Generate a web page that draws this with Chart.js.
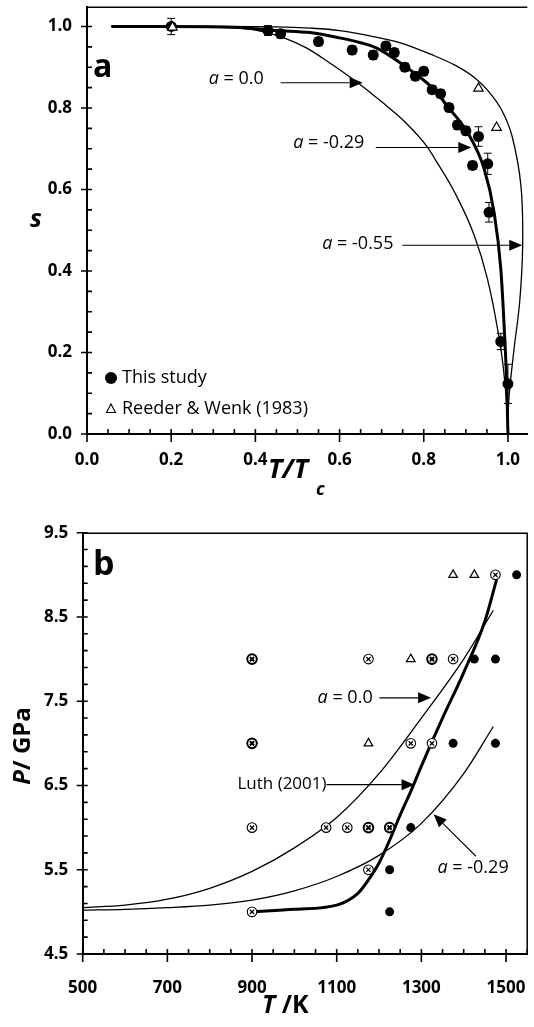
<!DOCTYPE html>
<html>
<head>
<meta charset="utf-8">
<script src="https://cdn.jsdelivr.net/npm/chart.js@4.4.1/dist/chart.umd.min.js"></script>
<style>
  html, body { margin: 0; padding: 0; background: #fff; }
  #wrapA { position: absolute; left: 0; top: 0; width: 534px; height: 500px; }
  #wrapB { position: absolute; left: 0; top: 500px; width: 534px; height: 527px; }
</style>
</head>
<body>
<div id="wrapA"><canvas id="chartA" width="534" height="500"></canvas></div>
<div id="wrapB"><canvas id="chartB" width="534" height="527"></canvas></div>
<script>
// ---- panel a : s vs T/Tc ----
const studyT = [0.2, 0.43, 0.46, 0.55, 0.63, 0.68, 0.71, 0.73, 0.755, 0.78, 0.80, 0.82, 0.84, 0.86, 0.88, 0.90, 0.93, 0.916, 0.952, 0.955, 0.983, 1.0]
const studyS = [1.0, 0.99, 0.982, 0.963, 0.942, 0.93, 0.952, 0.936, 0.90, 0.878, 0.89, 0.845, 0.835, 0.801, 0.758, 0.744, 0.73, 0.659, 0.663, 0.544, 0.227, 0.123]
const studyErr = [0.02, 0.012, 0.01, 0.01, 0.01, 0.01, 0.01, 0.01, 0.01, 0.01, 0.01, 0.01, 0.01, 0.01, 0.01, 0.01, 0.024, 0.01, 0.026, 0.024, 0.02, 0.048]
const reederT = [0.203, 0.93, 0.973]
const reederS = [0.998, 0.848, 0.752]

const fit00T = [0.058, 0.2, 0.3, 0.374, 0.42, 0.468, 0.52, 0.569, 0.647, 0.70, 0.756, 0.808, 0.827, 0.874, 0.92, 0.951, 0.975, 0.989, 0.997, 1.0]
const fit00S = [1.0, 1.0, 0.998, 0.995, 0.987, 0.972, 0.948, 0.916, 0.859, 0.815, 0.765, 0.705, 0.674, 0.592, 0.487, 0.382, 0.26, 0.163, 0.07, 0.0]
const fit029T = [0.058, 0.2, 0.35, 0.452, 0.53, 0.6, 0.65, 0.686, 0.764, 0.823, 0.858, 0.905, 0.944, 0.967, 0.983, 0.992, 0.997, 1.0]
const fit029S = [1.0, 1.0, 0.998, 0.99, 0.985, 0.972, 0.96, 0.948, 0.896, 0.847, 0.802, 0.738, 0.649, 0.544, 0.406, 0.244, 0.124, 0.0]
const fit055T = [0.058, 0.3, 0.45, 0.53, 0.6, 0.686, 0.75, 0.823, 0.874, 0.92, 0.952, 0.985, 1.01, 1.031, 1.035, 1.028, 1.014, 1.002, 1.0]
const fit055S = [1.0, 1.0, 0.999, 0.996, 0.99, 0.974, 0.958, 0.929, 0.905, 0.875, 0.843, 0.795, 0.73, 0.608, 0.463, 0.325, 0.204, 0.083, 0.0]

const xTicksA = [0.0, 0.2, 0.4, 0.6, 0.8, 1.0]
const yTicksA = [0.0, 0.2, 0.4, 0.6, 0.8, 1.0]

// ---- panel b : P vs T ----
const dotT = [1525, 1425, 1475, 1375, 1475, 1275, 1225, 1225]
const dotP = [9, 8, 8, 7, 7, 6, 5.5, 5]
const triT = [1375, 1425, 1275, 1175]
const triP = [9, 9, 8, 7]
const ringT = [1475, 900, 1175, 1325, 1375, 900, 1275, 1325, 900, 1075, 1125, 1175, 1225, 1175, 900]
const ringP = [9, 8, 8, 8, 8, 7, 7, 7, 6, 6, 6, 6, 6, 5.5, 5]
const ringBold = [0, 1, 0, 1, 0, 1, 0, 0, 0, 0, 0, 1, 1, 0, 0]

const luthT = [900, 1000, 1100, 1150, 1175, 1200, 1225, 1250, 1275, 1300, 1325, 1350, 1400, 1450, 1478]
const luthP = [5.0, 5.03, 5.08, 5.22, 5.38, 5.58, 5.85, 6.15, 6.43, 6.73, 7.02, 7.3, 7.84, 8.45, 8.95]
const b00T = [500, 600, 700, 800, 900, 1000, 1100, 1200, 1300, 1400, 1470]
const b00P = [5.05, 5.08, 5.15, 5.28, 5.48, 5.76, 6.12, 6.64, 7.3, 8.0, 8.58]
const b029T = [500, 600, 700, 800, 900, 1000, 1100, 1200, 1300, 1400, 1470]
const b029P = [5.02, 5.03, 5.05, 5.08, 5.14, 5.25, 5.42, 5.67, 6.05, 6.64, 7.2]

const xTicksB = [500, 700, 900, 1100, 1300, 1500]
const yTicksB = [4.5, 5.5, 6.5, 7.5, 8.5, 9.5]

const FONT = '"Open Sans", "DejaVu Sans", sans-serif'

function zip(xs, ys) { return xs.map((v, i) => ({ x: v, y: ys[i] })) }
function steps(a, b, d) { const out = []; for (let v = a; v <= b + 1e-9; v += d) out.push(+v.toFixed(4)); return out }

function arrow(ctx, x1, y1, x2, y2) {
    const ang = Math.atan2(y2 - y1, x2 - x1)
    const len = 13, hw = 5.5
    const bx = x2 - len * Math.cos(ang), by = y2 - len * Math.sin(ang)
    ctx.beginPath()
    ctx.moveTo(x1, y1)
    ctx.lineTo(bx, by)
    ctx.lineWidth = 1.1
    ctx.stroke()
    ctx.beginPath()
    ctx.moveTo(x2, y2)
    ctx.lineTo(bx + hw * Math.sin(ang), by - hw * Math.cos(ang))
    ctx.lineTo(bx - hw * Math.sin(ang), by + hw * Math.cos(ang))
    ctx.closePath()
    ctx.fill()
}

// "a = value" label, a in italics; anchored on its right edge or left edge
function aLabel(ctx, text, x, y, alignRight) {
    const f1 = 'italic 18px ' + FONT, f2 = '18px ' + FONT
    ctx.font = f1
    const w1 = ctx.measureText('a').width
    ctx.font = f2
    const w2 = ctx.measureText(text).width
    const x0 = alignRight ? x - w1 - w2 : x
    ctx.textBaseline = 'middle'
    ctx.textAlign = 'left'
    ctx.font = f1
    ctx.fillText('a', x0, y)
    ctx.font = f2
    ctx.fillText(text, x0 + w1, y)
}

function drawAxes(chart, xMajor, xMinor, yMajor, yMinor, rightBorder) {
    const ctx = chart.ctx
    const ca = chart.chartArea
    const xs = chart.scales.x, ys = chart.scales.y
    ctx.save()
    ctx.strokeStyle = '#000'
    ctx.lineWidth = 1.5
    ctx.beginPath()
    ctx.moveTo(ca.left, ca.top + 0.5)
    ctx.lineTo(ca.right, ca.top + 0.5)
    if (rightBorder) ctx.lineTo(ca.right, ca.bottom)
    ctx.stroke()
    ctx.lineWidth = 1.6
    const segs = []
    for (const v of xMajor) { const p = xs.getPixelForValue(v); segs.push([p, ca.bottom - 3, p, ca.bottom + 8]) }
    for (const v of xMinor) { const p = xs.getPixelForValue(v); segs.push([p, ca.bottom, p, ca.bottom - 5]) }
    for (const v of yMajor) { const p = ys.getPixelForValue(v); segs.push([ca.left - 6, p, ca.left + 5, p]) }
    for (const v of yMinor) { const p = ys.getPixelForValue(v); segs.push([ca.left, p, ca.left + 5, p]) }
    ctx.beginPath()
    segs.forEach(s => { ctx.moveTo(s[0], s[1]); ctx.lineTo(s[2], s[3]) })
    ctx.stroke()
    ctx.restore()
}

function noPad(s) { s.paddingLeft = 0; s.paddingRight = 0; s.paddingTop = 0; s.paddingBottom = 0 }

function axisOptions(min, max, tickVals, digits, padding, size, fit) {
    return {
        type: 'linear', min: min, max: max,
        afterBuildTicks: s => { s.ticks = tickVals.map(v => ({ value: v })) },
        afterFit: s => { fit(s); noPad(s) },
        grid: { display: false, drawTicks: false },
        border: { display: true, width: 2, color: '#000' },
        ticks: {
            padding: padding, color: '#000', autoSkip: false, maxRotation: 0,
            font: { family: FONT, size: size, weight: 'bold' },
            callback: v => v.toFixed(digits)
        }
    }
}

// ---------- panel a ----------
const decorA = {
    id: 'decorA',
    beforeDatasetsDraw(chart) {
        const { ctx, scales: { x, y } } = chart
        ctx.save()
        ctx.strokeStyle = '#000'
        ctx.lineWidth = 1
        ctx.beginPath()
        studyT.forEach((t, i) => {
            const px = x.getPixelForValue(t)
            const hi = y.getPixelForValue(studyS[i] + studyErr[i])
            const lo = y.getPixelForValue(studyS[i] - studyErr[i])
            ctx.moveTo(px, hi); ctx.lineTo(px, lo)
            ctx.moveTo(px - 4, hi); ctx.lineTo(px + 4, hi)
            ctx.moveTo(px - 4, lo); ctx.lineTo(px + 4, lo)
        })
        ctx.stroke()
        ctx.restore()
    },
    afterDraw(chart) {
        const { ctx, scales: { x, y } } = chart
        drawAxes(chart, xTicksA, steps(0, 1.0, 0.05), yTicksA, steps(0, 1.0, 0.05), false)
        ctx.save()
        ctx.fillStyle = '#000'
        ctx.strokeStyle = '#000'
        // panel letter
        ctx.font = 'bold 32px ' + FONT
        ctx.textBaseline = 'alphabetic'
        ctx.fillText('a', 93, 77)
        // annotations
        aLabel(ctx, ' = 0.0', x.getPixelForValue(0.42), y.getPixelForValue(0.871), true)
        arrow(ctx, x.getPixelForValue(0.46), y.getPixelForValue(0.862), x.getPixelForValue(0.655), y.getPixelForValue(0.862))
        aLabel(ctx, ' = -0.29', x.getPixelForValue(0.659), y.getPixelForValue(0.714), true)
        arrow(ctx, x.getPixelForValue(0.686), y.getPixelForValue(0.703), x.getPixelForValue(0.913), y.getPixelForValue(0.703))
        aLabel(ctx, ' = -0.55', x.getPixelForValue(0.728), y.getPixelForValue(0.466), true)
        arrow(ctx, x.getPixelForValue(0.749), y.getPixelForValue(0.463), x.getPixelForValue(1.034), y.getPixelForValue(0.463))
        // legend
        ctx.beginPath()
        ctx.arc(111, 378, 6, 0, Math.PI * 2)
        ctx.fill()
        ctx.lineWidth = 1.1
        ctx.beginPath()
        ctx.moveTo(111, 404); ctx.lineTo(115.5, 412.5); ctx.lineTo(106.5, 412.5); ctx.closePath()
        ctx.stroke()
        ctx.font = '18px ' + FONT
        ctx.textBaseline = 'middle'
        ctx.fillText('This study', 122, 378)
        ctx.fillText('Reeder & Wenk (1983)', 122, 409)
        // axis titles
        ctx.font = 'bold italic 25px ' + FONT
        ctx.fillText('s', 30, 220)
        ctx.font = 'bold italic 27px ' + FONT
        ctx.fillText('T/T', 268, 470)
        const wTT = ctx.measureText('T/T').width
        ctx.font = 'bold italic 18px ' + FONT
        ctx.fillText('c', 268 + wTT + 8, 490)
        ctx.restore()
    }
}

new Chart(document.getElementById('chartA'), {
    type: 'scatter',
    data: {
        datasets: [
            { label: 'Reeder & Wenk (1983)', data: zip(reederT, reederS), pointStyle: 'triangle', pointRadius: 5.5,
              backgroundColor: '#fff', borderColor: '#000', borderWidth: 1.2, order: 0 },
            { label: 'This study', data: zip(studyT, studyS), pointStyle: 'circle', pointRadius: 5.5,
              backgroundColor: '#000', borderColor: '#000', borderWidth: 0, order: 1 },
            { label: 'a = -0.29', data: zip(fit029T, fit029S), showLine: true, pointRadius: 0,
              borderColor: '#000', borderWidth: 3, cubicInterpolationMode: 'monotone', order: 2 },
            { label: 'a = 0.0', data: zip(fit00T, fit00S), showLine: true, pointRadius: 0,
              borderColor: '#000', borderWidth: 1.3, cubicInterpolationMode: 'monotone', order: 3 },
            { label: 'a = -0.55', data: zip(fit055T, fit055S), showLine: true, pointRadius: 0,
              borderColor: '#000', borderWidth: 1.3, tension: 0.35, order: 4 }
        ]
    },
    options: {
        responsive: false,
        animation: false,
        layout: { padding: { top: 2, right: 0, left: 0, bottom: 0 } },
        plugins: { legend: { display: false }, tooltip: { enabled: false } },
        scales: {
            x: axisOptions(0, 1.046, xTicksA, 1, 16, 17, s => { s.height = 66 }),
            y: axisOptions(0, 1.0485, yTicksA, 1, 15, 17, s => { s.width = 87 })
        }
    },
    plugins: [decorA]
})

// ---------- panel b ----------
const decorB = {
    id: 'decorB',
    afterDraw(chart) {
        const { ctx, scales: { x, y } } = chart
        drawAxes(chart, xTicksB, steps(500, 1550, 50), yTicksB, steps(4.5, 9.5, 0.2), true)
        ctx.save()
        ctx.fillStyle = '#000'
        ctx.strokeStyle = '#000'
        ctx.font = 'bold 34px ' + FONT
        ctx.textBaseline = 'alphabetic'
        ctx.fillText('b', 93, 75)
        aLabel(ctx, ' = 0.0', x.getPixelForValue(1185), y.getPixelForValue(7.54), true)
        arrow(ctx, x.getPixelForValue(1201), y.getPixelForValue(7.54), x.getPixelForValue(1323), y.getPixelForValue(7.54))
        ctx.font = '17px ' + FONT
        ctx.textBaseline = 'middle'
        ctx.textAlign = 'right'
        ctx.fillText('Luth (2001)', x.getPixelForValue(1076), y.getPixelForValue(6.52))
        ctx.textAlign = 'left'
        arrow(ctx, x.getPixelForValue(1076), y.getPixelForValue(6.51), x.getPixelForValue(1284), y.getPixelForValue(6.51))
        aLabel(ctx, ' = -0.29', x.getPixelForValue(1338), y.getPixelForValue(5.52), false)
        arrow(ctx, x.getPixelForValue(1429), y.getPixelForValue(5.66), x.getPixelForValue(1329), y.getPixelForValue(6.16))
        // axis titles
        ctx.save()
        ctx.translate(23, 246)
        ctx.rotate(-Math.PI / 2)
        ctx.textAlign = 'left'
        ctx.font = 'bold italic 24px ' + FONT
        const wP = ctx.measureText('P').width
        ctx.font = 'bold 24px ' + FONT
        const wR = ctx.measureText('/ GPa').width
        const sx = -(wP + wR) / 2
        ctx.font = 'bold italic 24px ' + FONT
        ctx.fillText('P', sx, 0)
        ctx.font = 'bold 24px ' + FONT
        ctx.fillText('/ GPa', sx + wP, 0)
        ctx.restore()
        ctx.font = 'bold italic 25px ' + FONT
        ctx.fillText('T', 262, 506)
        const wT = ctx.measureText('T ').width
        ctx.font = 'bold 25px ' + FONT
        ctx.fillText('/K', 262 + wT, 506)
        ctx.restore()
    }
}

new Chart(document.getElementById('chartB'), {
    type: 'scatter',
    data: {
        datasets: [
            { label: 'ring cross', data: zip(ringT, ringP), pointStyle: 'crossRot', pointRadius: 3,
              borderColor: '#000', pointBorderWidth: ringBold.map(b => b ? 2 : 1.2), order: 0 },
            { label: 'ring', data: zip(ringT, ringP), pointStyle: 'circle', pointRadius: 4.8,
              backgroundColor: '#fff', borderColor: '#000', pointBorderWidth: ringBold.map(b => b ? 2 : 1.1), order: 1 },
            { label: 'triangle', data: zip(triT, triP), pointStyle: 'triangle', pointRadius: 5,
              backgroundColor: '#fff', borderColor: '#000', borderWidth: 1.2, order: 2 },
            { label: 'dot', data: zip(dotT, dotP), pointStyle: 'circle', pointRadius: 4.5,
              backgroundColor: '#000', borderColor: '#000', borderWidth: 0, order: 3 },
            { label: 'Luth (2001)', data: zip(luthT, luthP), showLine: true, pointRadius: 0,
              borderColor: '#000', borderWidth: 3, cubicInterpolationMode: 'monotone', order: 4 },
            { label: 'a = 0.0', data: zip(b00T, b00P), showLine: true, pointRadius: 0,
              borderColor: '#000', borderWidth: 1.3, cubicInterpolationMode: 'monotone', order: 5 },
            { label: 'a = -0.29', data: zip(b029T, b029P), showLine: true, pointRadius: 0,
              borderColor: '#000', borderWidth: 1.3, cubicInterpolationMode: 'monotone', order: 6 }
        ]
    },
    options: {
        responsive: false,
        animation: false,
        layout: { padding: { top: 32.7, right: 6, left: 0, bottom: 0 } },
        plugins: { legend: { display: false }, tooltip: { enabled: false } },
        scales: {
            x: axisOptions(500, 1550, xTicksB, 0, 24, 17, s => { s.height = 73 }),
            y: axisOptions(4.5, 9.5, yTicksB, 1, 14.4, 17, s => { s.width = 82.7 })
        }
    },
    plugins: [decorB]
})
</script>
</body>
</html>
